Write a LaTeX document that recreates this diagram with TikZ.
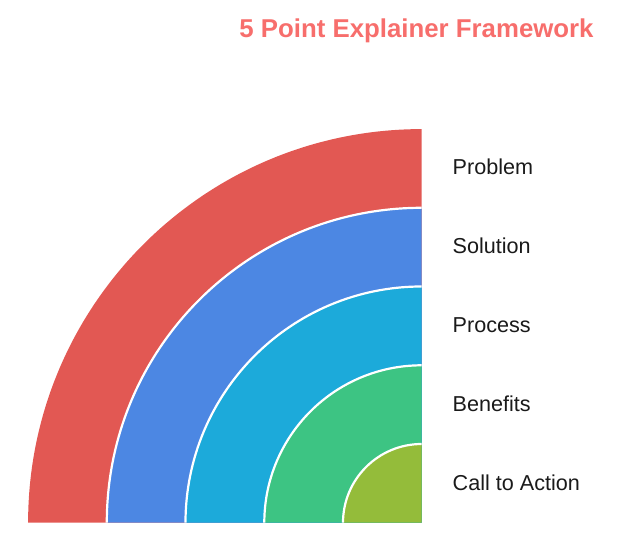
\documentclass[tikz,border=0pt]{standalone}
\usepackage{fontspec}
\setmainfont{Liberation Sans}
\definecolor{titlecol}{HTML}{F76E6C}
\definecolor{bandA}{HTML}{E25853}
\definecolor{bandB}{HTML}{4C87E3}
\definecolor{bandC}{HTML}{1CAADA}
\definecolor{bandD}{HTML}{3DC483}
\definecolor{bandE}{HTML}{94BC3A}
\definecolor{labelcol}{HTML}{1A1A1A}
\begin{document}
\begin{tikzpicture}[x=1bp,y=1bp,
  lbl/.style={anchor=base west,inner sep=0pt,text=labelcol,font=\fontsize{21.6bp}{26bp}\selectfont},
  sep/.style={draw=white,line width=2.2bp}]
\useasboundingbox (0,0) rectangle (628,540);
\coordinate (C) at (421.7,17.3);
% quarter sectors from largest to smallest
\foreach \r/\c in {393.6/bandA,314.9/bandB,236.2/bandC,157.4/bandD,78.7/bandE}{
  \fill[\c] (C) -- ++(-\r,0) arc[start angle=180,end angle=90,radius=\r] -- cycle;
}
% white separators
\foreach \r in {314.9,236.2,157.4,78.7}{
  \draw[sep] (C) ++(-\r,0) arc[start angle=180,end angle=90,radius=\r];
}
\node[anchor=base,inner sep=0pt,text=titlecol,font=\bfseries\fontsize{25.8bp}{30bp}\selectfont] (title) at (416.5,502) {5 Point Explainer Framework};
\node[lbl] (l1) at (452.5,365.7) {Problem};
\node[lbl] (l2) at (452.5,286.7) {Solution};
\node[lbl] (l3) at (452.5,207.7) {Process};
\node[lbl] (l4) at (452.5,128.7) {Benefits};
\node[lbl] (l5) at (452.5,49.7) {Call to Action};
\end{tikzpicture}
\end{document}
